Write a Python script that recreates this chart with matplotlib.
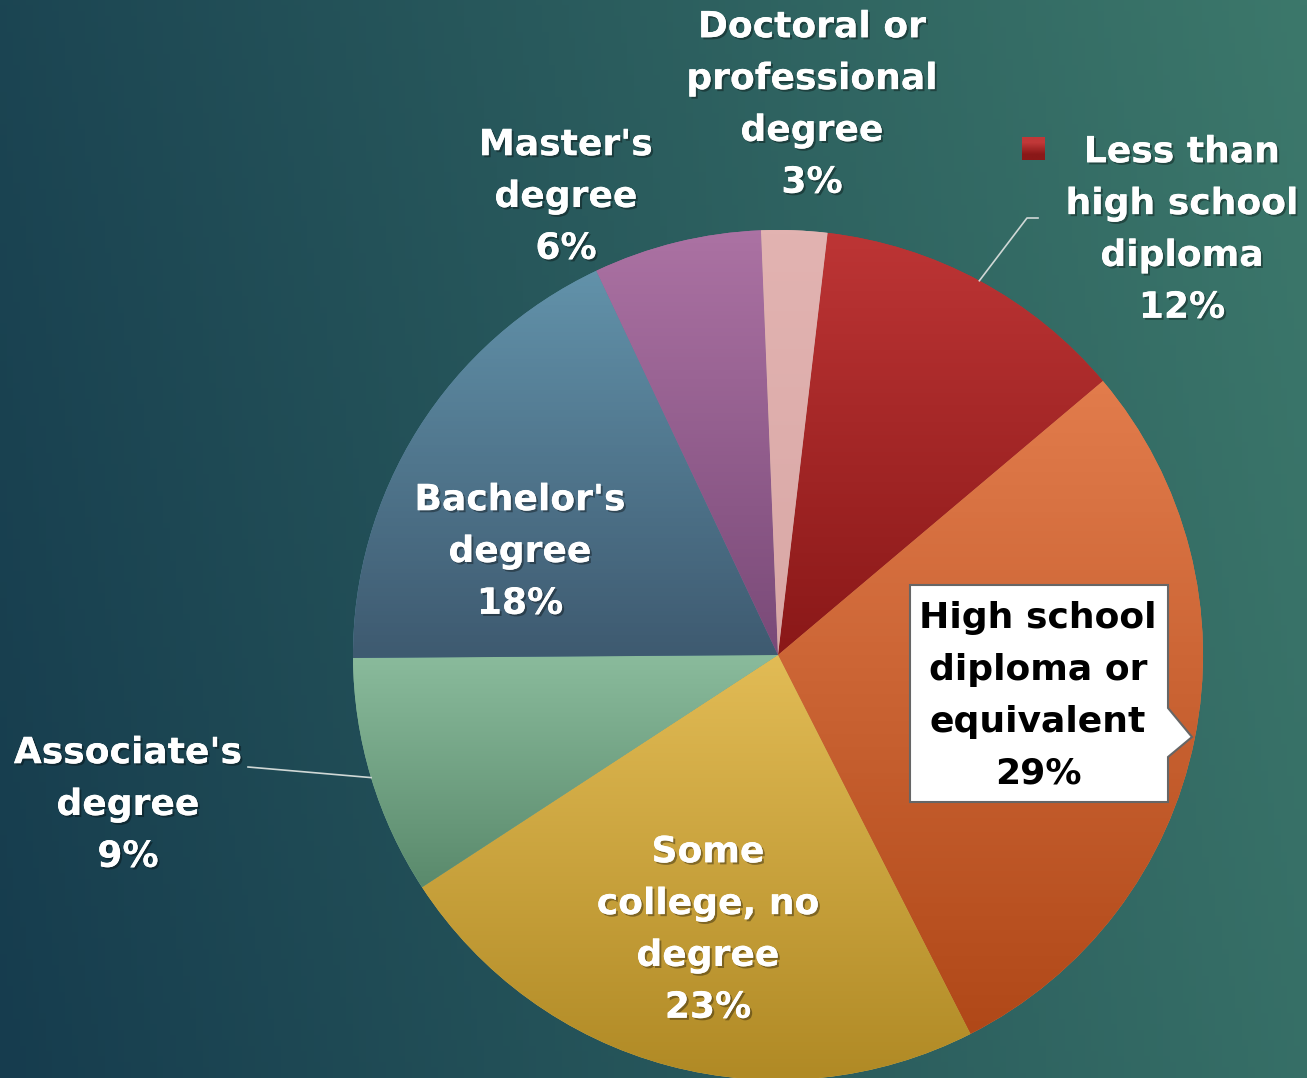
import numpy as np
import matplotlib
matplotlib.use("Agg")
import matplotlib.pyplot as plt
from matplotlib.patches import Polygon, Rectangle
from matplotlib import colors as mcolors
import matplotlib.patheffects as pe

# data
categories = ["Less than high school diploma", "High school diploma or equivalent",
              "Some college, no degree", "Associate's degree", "Bachelor's degree",
              "Master's degree", "Doctoral or professional degree"]
shares = [12.0, 28.7, 23.3, 9.1, 18.1, 6.4, 2.5]
pct_labels = ["12%", "29%", "23%", "9%", "18%", "6%", "3%"]
label_text = ["Less than\nhigh school\ndiploma", "High school\ndiploma or\nequivalent",
              "Some\ncollege, no\ndegree", "Associate's\ndegree", "Bachelor's\ndegree",
              "Master's\ndegree", "Doctoral or\nprofessional\ndegree"]

# top / bottom colours of each slice gradient
top_colors = ["#bd3535", "#e27c4c", "#e2bb55", "#8abb9c", "#6292aa", "#ab72a3", "#e2b3b1"]
bot_colors = ["#8a1818", "#b04818", "#b08a25", "#5a8a6c", "#3e5a70", "#7a4a78", "#d9a8a6"]

W, H = 1307, 1078
fig = plt.figure(figsize=(W / 100, H / 100), dpi=100)
ax = fig.add_axes([0, 0, 1, 1])

# background gradient
xx, yy = np.meshgrid(np.linspace(0, 1, 200), np.linspace(0, 1, 200))
t = np.clip(0.85 * xx + 0.15 * yy, 0, 1)
c0 = np.array(mcolors.to_rgb("#163c4e"))
c1 = np.array(mcolors.to_rgb("#3c786b"))
bg = c0 + (c1 - c0) * t[..., None]
ax.imshow(bg, extent=(0, W, H, 0), origin="upper", aspect="auto", zorder=0)

cx, cy, R = 778, H - 655, 425
wedges, _ = ax.pie(shares, center=(cx, cy), radius=R, startangle=83.3,
                   counterclock=False, frame=True,
                   wedgeprops=dict(edgecolor="none", linewidth=0))

for w, ct, cb in zip(wedges, top_colors, bot_colors):
    w.set_facecolor(ct)
    w.set_zorder(1)
    ext = w.get_path().get_extents()
    a = np.array(mcolors.to_rgb(ct))
    b = np.array(mcolors.to_rgb(cb))
    s = np.linspace(0, 1, 100)[:, None]
    grad = (a + (b - a) * s)[:, None, :]
    im = ax.imshow(grad, extent=(ext.x0, ext.x1, ext.y0, ext.y1), origin="upper",
                   aspect="auto", zorder=2)
    im.set_clip_path(w)

# label layout (pixel centres, y from top)
label_pos = [(1182, 230), (1038, 696), (708, 930), (128, 805), (520, 552), (566, 197), (812, 105)]
shadow = [pe.withSimplePatchShadow(offset=(1.5, -1.5), shadow_rgbFace="black", alpha=0.35), pe.Normal()]
font = dict(family="DejaVu Sans", weight="bold", fontsize=26)
lsp = 1.66

for i, (lab, pct, (lx, ly)) in enumerate(zip(label_text, pct_labels, label_pos)):
    txt = lab + "\n" + pct
    if i == 1:
        box = Polygon([(910, H - 585), (1168, H - 585), (1168, H - 708), (1192, H - 737),
                       (1168, H - 757), (1168, H - 802), (910, H - 802)],
                      closed=True, facecolor="white", edgecolor="#666666", lw=1.5, zorder=5)
        ax.add_patch(box)
        ax.text(lx, H - ly, txt, ha="center", va="center", ma="center", color="black",
                linespacing=lsp, zorder=6, **font)
    else:
        ax.text(lx, H - ly, txt, ha="center", va="center", ma="center", color="white",
                linespacing=lsp, zorder=6, path_effects=shadow, **font)

# leader lines from slice edge (mid angle) to labels
def edge_point(w):
    mid = np.deg2rad((w.theta1 + w.theta2) / 2)
    return cx + R * np.cos(mid), cy + R * np.sin(mid)

px, py = edge_point(wedges[0])
ax.plot([px, 1027, 1038], [py, H - 218, H - 218], color="#d0d8d6", lw=1.2, zorder=4)
px, py = edge_point(wedges[3])
ax.plot([248, px], [H - 767, py], color="#d0d8d6", lw=1.2, zorder=4)

# legend key next to the first label (small red gradient square)
key = Rectangle((1022, H - 160), 23, 23, facecolor="#a82626", edgecolor="none", zorder=5)
ax.add_patch(key)
kg = np.array([mcolors.to_rgb("#c03838"), mcolors.to_rgb("#8a1818")])[:, None, :]
kim = ax.imshow(kg, extent=(1022, 1045, H - 160, H - 137), origin="upper",
                aspect="auto", zorder=6, interpolation="bilinear")
kim.set_clip_path(key)

ax.set_xlim(0, W)
ax.set_ylim(0, H)
ax.set_aspect("auto")
ax.axis("off")
fig.savefig("out.png", dpi=100)
